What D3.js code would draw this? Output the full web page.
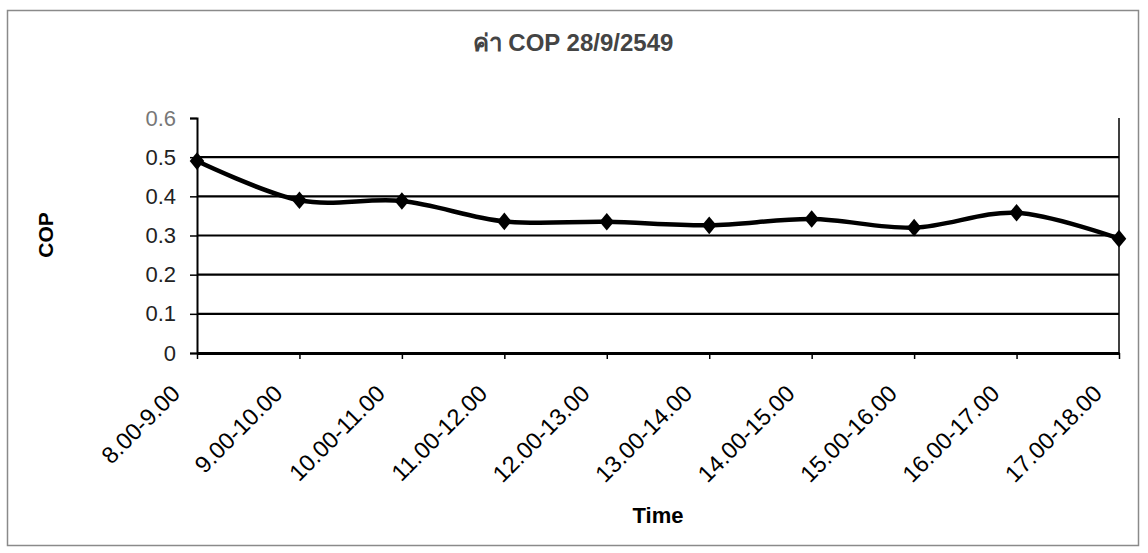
<!DOCTYPE html>
<html>
<head>
<meta charset="utf-8">
<script src="https://cdn.jsdelivr.net/npm/d3@7"></script>
<style>
  html, body { margin: 0; padding: 0; background: #fff; }
  svg { display: block; }
  text { font-family: "Liberation Sans", Arial, sans-serif; }
</style>
</head>
<body>
<svg id="chart" width="1148" height="553"></svg>
<script>
// Hourly COP readings for 28/9/2549
const categories = ["8.00-9.00", "9.00-10.00", "10.00-11.00", "11.00-12.00", "12.00-13.00",
                    "13.00-14.00", "14.00-15.00", "15.00-16.00", "16.00-17.00", "17.00-18.00"];
const copValues = [0.49, 0.39, 0.388, 0.336, 0.335, 0.326, 0.342, 0.32, 0.358, 0.292];
const yTicks = [0, 0.1, 0.2, 0.3, 0.4, 0.5, 0.6];
const titleText = "ค่า COP 28/9/2549";
const xTitle = "Time";
const yTitle = "COP";

const svg = d3.select("#chart");
const plot = { left: 197, right: 1119, top: 118, bottom: 353 };

// Outer chart frame
svg.append("rect")
  .attr("x", 7.5).attr("y", 10.5)
  .attr("width", 1131).attr("height", 535)
  .attr("fill", "none").attr("stroke", "#8a8a8a").attr("stroke-width", 1.5);

const x = d3.scalePoint().domain(categories).range([plot.left, plot.right]);
const y = d3.scaleLinear().domain([0, 0.6]).range([plot.bottom, plot.top]);

// Horizontal gridlines
svg.append("g").selectAll("line")
  .data(yTicks.filter(v => v > 0 && v < 0.6))
  .join("line")
  .attr("x1", plot.left).attr("x2", plot.right)
  .attr("y1", d => y(d)).attr("y2", d => y(d))
  .attr("stroke", "#000").attr("stroke-width", 2.2);

// Right edge of the plot area
svg.append("line")
  .attr("x1", plot.right).attr("x2", plot.right)
  .attr("y1", plot.top).attr("y2", plot.bottom)
  .attr("stroke", "#000").attr("stroke-width", 1.5);

// Y axis
const yAxis = svg.append("g")
  .attr("transform", `translate(${plot.left},0)`)
  .call(d3.axisLeft(y).tickValues(yTicks).tickSize(7).tickPadding(14)
        .tickFormat(d => d === 0 ? "0" : d3.format(".1f")(d)));
yAxis.select(".domain").attr("stroke", "#000").attr("stroke-width", 2);
yAxis.selectAll(".tick line").attr("stroke", "#000").attr("stroke-width", 1.5);
yAxis.selectAll(".tick text")
  .attr("font-size", 22).attr("fill", "#222")
  .attr("font-family", "'Liberation Sans', Arial, sans-serif");
yAxis.selectAll(".tick text").filter(d => d === 0.6).attr("fill", "#777");

// X axis
const xAxis = svg.append("g")
  .attr("transform", `translate(0,${plot.bottom})`)
  .call(d3.axisBottom(x).tickSize(6).tickSizeOuter(0));
xAxis.select(".domain").attr("stroke", "#000").attr("stroke-width", 2.8);
xAxis.selectAll(".tick line").attr("stroke", "#000").attr("stroke-width", 1.5);
xAxis.selectAll(".tick text")
  .attr("font-size", 23.5).attr("fill", "#000")
  .attr("font-family", "'Liberation Sans', Arial, sans-serif")
  .attr("text-anchor", "end")
  .attr("dy", null).attr("y", null)
  .attr("transform", "translate(-16,42) rotate(-45)");

// Smoothed COP line
const line = d3.line()
  .x((d, i) => x(categories[i]))
  .y(d => y(d))
  .curve(d3.curveCatmullRom.alpha(0));
svg.append("path")
  .datum(copValues)
  .attr("d", line)
  .attr("fill", "none").attr("stroke", "#000").attr("stroke-width", 4.5)
  .attr("stroke-linejoin", "round");

// Diamond markers
svg.append("g").selectAll("path")
  .data(copValues)
  .join("path")
  .attr("d", d3.symbol().type(d3.symbolDiamond2).size(150))
  .attr("transform", (d, i) => `translate(${x(categories[i])},${y(d)}) scale(0.95,1.15)`)
  .attr("fill", "#000");

// Titles
svg.append("text")
  .attr("x", 573).attr("y", 51)
  .attr("text-anchor", "middle")
  .attr("font-size", 24).attr("font-weight", "bold").attr("fill", "#444")
  .attr("font-family", "'Liberation Sans', 'Noto Sans', Arial, sans-serif")
  .text(titleText);

svg.append("text")
  .attr("x", 658).attr("y", 523)
  .attr("text-anchor", "middle")
  .attr("font-size", 22).attr("font-weight", "bold").attr("fill", "#000")
  .text(xTitle);

svg.append("text")
  .attr("transform", "translate(53,235) rotate(-90)")
  .attr("text-anchor", "middle")
  .attr("font-size", 21).attr("font-weight", "bold").attr("fill", "#000")
  .text(yTitle);
</script>
</body>
</html>
